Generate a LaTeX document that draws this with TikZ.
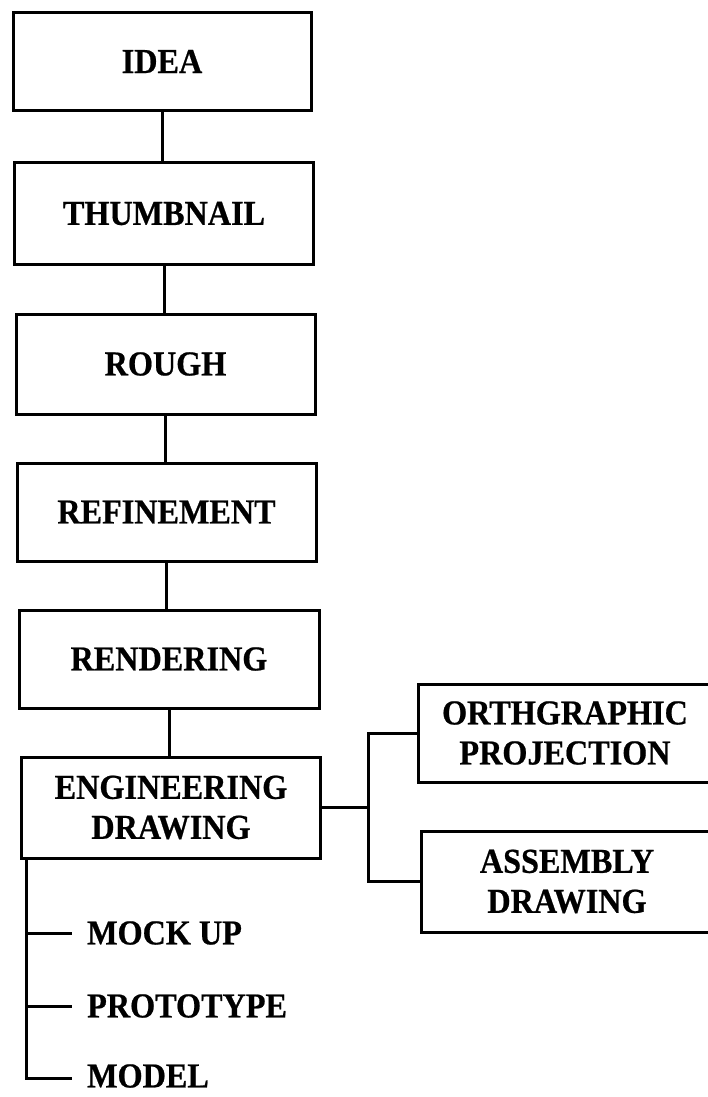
\documentclass[tikz,border=0pt]{standalone}
\usepackage{fontspec}
\newfontfamily\lblfont[FakeStretch=0.92,FakeBold=0.6]{Liberation Serif}
\begin{document}
\begin{tikzpicture}[x=1pt,y=-1pt,
  txt/.style={font=\lblfont\bfseries\fontsize{35}{40}\selectfont},
  box/.style={txt, draw, line width=3pt, inner sep=0pt, align=center},
  conn/.style={line width=3pt},
  item/.style={txt, anchor=west, inner sep=0pt}]
\useasboundingbox (0,0) rectangle (708,1097);
\clip (0,0) rectangle (708,1097);
\node[box, minimum width=298pt, minimum height=98pt] (idea) at (162,61.5) {IDEA};
\node[box, minimum width=299pt, minimum height=102pt] (thumb) at (164,213.5) {THUMBNAIL};
\node[box, minimum width=299pt, minimum height=100pt] (rough) at (165.5,364) {ROUGH};
\node[box, minimum width=299pt, minimum height=98pt] (refine) at (166.5,512) {REFINEMENT};
\node[box, minimum width=300pt, minimum height=98pt] (render) at (169,659) {RENDERING};
\node[box, minimum width=299pt, minimum height=101pt] (eng) at (171,807.5) {ENGINEERING\\DRAWING};
\node[box, minimum width=294pt, minimum height=98pt] (orth) at (565,733) {ORTHGRAPHIC\\PROJECTION};
\node[box, minimum width=292pt, minimum height=101pt] (asm) at (567,881.5) {ASSEMBLY\\DRAWING};
\node[item] (mock) at (87,933) {MOCK UP};
\node[item] (proto) at (87,1006) {PROTOTYPE};
\node[item] (model) at (87,1076) {MODEL};
\draw[conn] (idea.south) -- (idea.south |- thumb.north);
\draw[conn] (thumb.south) -- (thumb.south |- rough.north);
\draw[conn] (rough.south) -- (rough.south |- refine.north);
\draw[conn] (refine.south) -- (refine.south |- render.north);
\draw[conn] (render.south) -- (render.south |- eng.north);
\coordinate (jn) at (368,807.5);
\draw[conn] (eng.east) -- (jn);
\draw[conn] (orth.west) -| (jn) |- (asm.west);
\coordinate (vtop) at (26,858);
\coordinate (vbot) at (26,1078);
\draw[conn] (vtop) -- (vbot) -- ([xshift=-15pt]model.west |- vbot);
\draw[conn] (vtop |- mock.west) -- ([xshift=-15pt]mock.west);
\draw[conn] (vtop |- proto.west) -- ([xshift=-15pt]proto.west);
\end{tikzpicture}
\end{document}
